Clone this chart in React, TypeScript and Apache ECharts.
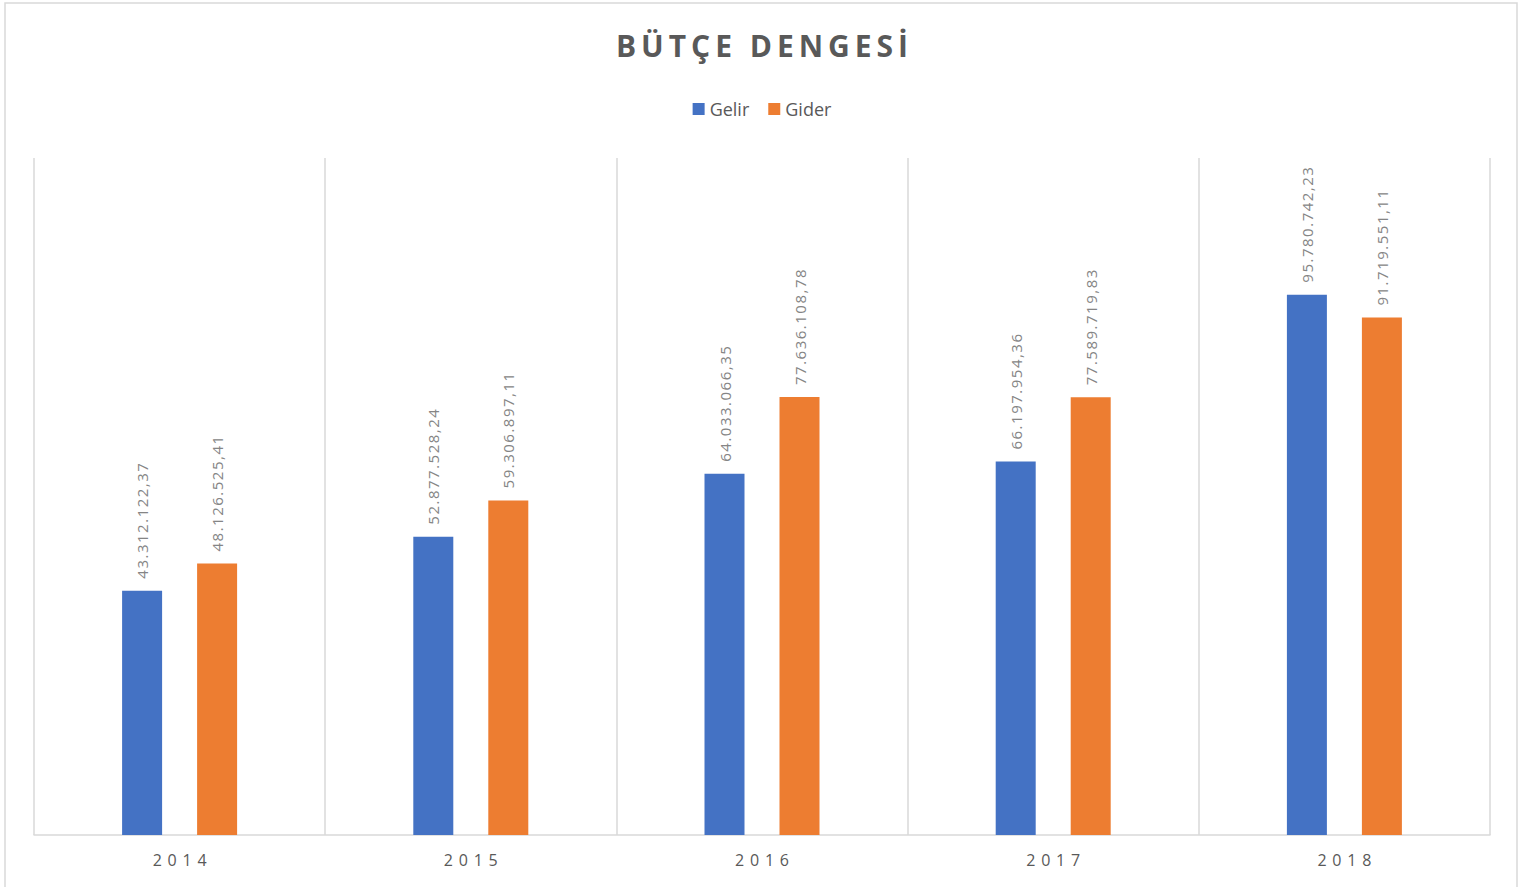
import React, { useEffect, useRef } from "react";
import * as echarts from "echarts";

const categories = ["2014", "2015", "2016", "2017", "2018"];
const gelir = [43312122.37, 52877528.24, 64033066.35, 66197954.36, 95780742.23];
const gider = [48126525.41, 59306897.11, 77636108.78, 77589719.83, 91719551.11];
const titleText = "BÜTÇE DENGESİ";

const spaced = (s: string, sp: string) => s.split("").join(sp);

function formatTR(v: number): string {
  const fixed = v.toFixed(2);
  const [intPart, dec] = fixed.split(".");
  const withDots = intPart.replace(/\B(?=(\d{3})+(?!\d))/g, ".");
  return withDots + "," + dec;
}

export default function App() {
  const ref = useRef<HTMLDivElement>(null);
  useEffect(() => {
    if (!ref.current) return;
    const chart = echarts.init(ref.current, undefined, { renderer: "svg" });
    const font = "'Open Sans', 'Noto Sans', sans-serif";
    const labelCfg = {
      show: true,
      position: "top" as const,
      rotate: 90,
      align: "left" as const,
      verticalAlign: "middle" as const,
      distance: 12,
      color: "#858585",
      fontSize: 15,
      fontFamily: font,
      formatter: (p: any) => spaced(formatTR(p.value), "\u200A"),
    };
    chart.setOption({
      animation: false,
      backgroundColor: "#ffffff",
      textStyle: { fontFamily: font },
      title: {
        text: spaced(titleText, "\u2009"),
        left: "center",
        top: 25,
        textStyle: { fontSize: 30, fontWeight: "bold", color: "#595959", fontFamily: font },
      },
      legend: {
        data: ["Gelir", "Gider"],
        top: 95,
        left: "center",
        itemWidth: 12,
        itemHeight: 12,
        itemGap: 19,
        icon: "rect",
        textStyle: { fontSize: 18, color: "#595959", fontFamily: font, padding: [0, 0, 0, 0] },
      },
      graphic: [
        {
          type: "rect",
          shape: { x: 5, y: 3, width: 1512, height: 900 },
          style: { fill: "none", stroke: "#d9d9d9", lineWidth: 1.5 },
          silent: true,
        },
      ],
      grid: { left: 34, right: 34, top: 158, bottom: 52, containLabel: false },
      xAxis: {
        type: "category",
        data: categories,
        axisLine: { show: true, lineStyle: { color: "#d9d9d9", width: 1.5 } },
        axisTick: { show: false },
        splitLine: { show: true, lineStyle: { color: "#d9d9d9", width: 1.5 } },
        axisLabel: {
          color: "#595959",
          fontSize: 16,
          margin: 17,
          fontFamily: font,
          formatter: (v: string) => spaced(v, " \u200A"),
        },
      },
      yAxis: {
        type: "value",
        min: 0,
        max: 120000000,
        show: false,
        splitLine: { show: false },
      },
      series: [
        {
          name: "Gelir",
          type: "bar",
          data: gelir,
          barWidth: 40,
          barGap: "87.5%",
          itemStyle: { color: "#4472C4" },
          label: labelCfg,
        },
        {
          name: "Gider",
          type: "bar",
          data: gider,
          barWidth: 40,
          itemStyle: { color: "#ED7D31" },
          label: labelCfg,
        },
      ],
    });
    return () => chart.dispose();
  }, []);
  return (
    <div
      ref={ref}
      style={{ position: "fixed", left: 0, top: 0, width: 1524, height: 887 }}
    />
  );
}
